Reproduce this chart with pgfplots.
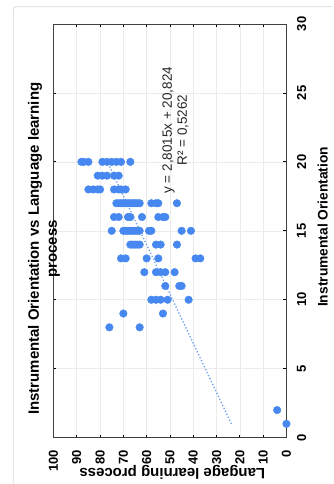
\documentclass[border=0pt]{standalone}
\usepackage{pgfplots}
\pgfplotsset{compat=1.18}
\usepackage{fontspec}
\setmainfont{Liberation Sans}
\definecolor{dotblue}{RGB}{70,136,240}
\begin{document}
\begin{tikzpicture}
\path[fill=white] (0,0) rectangle (333pt,-484pt);
\draw[black!15, line width=0.8pt, rounded corners=3pt] (13.3pt,-484pt) -- (13.3pt,-6.7pt) -- (333pt,-6.7pt);
\begin{axis}[
  at={(170.1pt,-231pt)}, anchor=center,
  width=233.2pt, height=414pt, scale only axis,
  xmin=0, xmax=100, x dir=reverse,
  ymin=0, ymax=30,
  xtick={0,10,...,100}, ytick={0,5,...,30},
  grid=major, major grid style={black!8, line width=0.6pt},
  axis line style={black!75, line width=0.8pt},
  tick align=inside, major tick length=3pt, tick style={black, line width=0.8pt},
  yticklabel pos=right,
  /pgf/number format/assume math mode=true,
  tick label style={font=\bfseries\fontsize{13}{15}\selectfont, rotate=90},
  xticklabel style={anchor=east},
  yticklabel style={anchor=north},
  xticklabel shift=9pt, yticklabel shift=7pt,
]
\addplot[only marks, mark=*, mark size=3.8pt, color=dotblue, mark options={solid, draw=dotblue, fill=dotblue}] coordinates {
(88,20) (87,20) (85,20) (79,20) (77,20) (75,20) (73,20) (71,20) (67,20)
(81,19) (79,19) (77,19) (74,19) (72,19)
(85,18) (83,18) (81,18) (80,18) (74,18) (72,18) (71,18) (69,18)
(73,17) (72,17) (71,17) (70,17) (69,17) (68,17) (67,17) (66,17) (65,17) (64,17) (63,17) (58,17) (56,17) (55,17) (47,17)
(74,16) (72,16) (68,16) (67,16) (62,16) (55,16) (53,16) (52,16)
(75,15) (70,15) (69,15) (68,15) (67,15) (66,15) (65,15) (64,15) (63,15) (59,15) (58,15) (45,15) (41,15)
(67,14) (66,14) (65,14) (64,14) (63,14) (56,14) (54,14) (47,14)
(71,13) (69,13) (60,13) (55,13) (39,13) (37,13)
(61,12) (56,12) (54,12) (52,12) (48,12)
(52,11) (46,11) (45,11)
(58,10) (56,10) (54,10) (51,10) (42,10)
(70,9) (53,9)
(76,8) (63,8)
(4,2)
(0,1)
};
\addplot[dotblue!80, line width=1.3pt, dash pattern=on 1.3pt off 2pt] coordinates {(23.6255,1) (76.854,20)};
\node[rotate=90, align=center, font=\fontsize{13.5}{15}\selectfont, text=black!85] at (axis cs:47.6,22.3) {y = 2,8015x + 20,824\\R² = 0,5262};
\end{axis}
\node[rotate=90, align=center, font=\bfseries\fontsize{15}{18}\selectfont] at (44pt,-249pt) {Instrumental Orientation vs Language learning\\process};
\node[rotate=90, font=\bfseries\fontsize{13.8}{16}\selectfont] at (323pt,-227pt) {Instrumental Orientation};
\node[rotate=180, font=\bfseries\fontsize{15}{18}\selectfont] at (172.5pt,-473pt) {Langage learning process};
\end{tikzpicture}
\end{document}
